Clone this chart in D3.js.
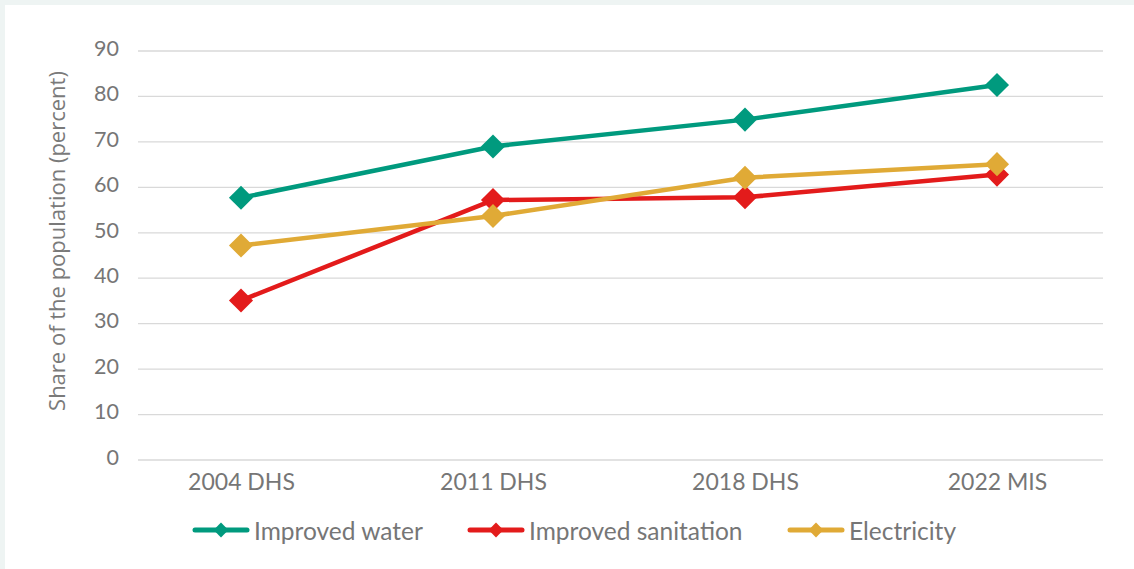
<!DOCTYPE html>
<html><head><meta charset="utf-8">
<script src="https://cdn.jsdelivr.net/npm/d3@7"></script>
<style>
html,body{margin:0;padding:0;background:#eef4f3;}
svg{display:block;}
</style></head>
<body>
<svg id="chart" width="1134" height="569"></svg>
<script>
const categories = ["2004 DHS", "2011 DHS", "2018 DHS", "2022 MIS"];
const improvedWater = [57.7, 69.0, 74.9, 82.5];
const improvedSanitation = [35.1, 57.2, 57.8, 62.8];
const electricity = [47.2, 53.7, 62.1, 65.1];
const yTicks = [0, 10, 20, 30, 40, 50, 60, 70, 80, 90];
const seriesNames = ["Improved water", "Improved sanitation", "Electricity"];
const seriesColors = ["#009a7e", "#e31b1b", "#e0aa36"];

const series = [
  {name: seriesNames[0], values: improvedWater, color: seriesColors[0]},
  {name: seriesNames[1], values: improvedSanitation, color: seriesColors[1]},
  {name: seriesNames[2], values: electricity, color: seriesColors[2]}
];

const svg = d3.select("#chart");
svg.append("rect").attr("x",5).attr("y",5).attr("width",1129).attr("height",564).attr("fill","#fff");

const gridX0 = 138, gridX1 = 1103;
const x = d3.scalePoint().domain(categories).range([241, 997]);
const y = d3.scaleLinear().domain([0, 90]).range([460, 51]);

const tickFont = "Lato, 'Open Sans', sans-serif";
const textColor = "#767676";

// gridlines
svg.append("g").selectAll("line").data(yTicks).join("line")
  .attr("x1", gridX0).attr("x2", gridX1)
  .attr("y1", d => y(d)).attr("y2", d => y(d))
  .attr("stroke", "#d9d9d9").attr("stroke-width", 1.3);

// y axis labels
const yAxis = d3.axisLeft(y).tickValues(yTicks).tickSize(0).tickPadding(0);
const gy = svg.append("g").attr("transform", "translate(119,0)").call(yAxis);
gy.select(".domain").remove();
gy.selectAll("text").attr("font-family", tickFont).attr("font-size", 21.5).attr("fill", textColor).attr("dy", "0.2em");

// x axis labels
const xAxis = d3.axisBottom(x).tickSize(0).tickPadding(0);
const gx = svg.append("g").attr("transform", "translate(0,474)").call(xAxis);
gx.select(".domain").remove();
gx.selectAll("text").attr("font-family", tickFont).attr("font-size", 23).attr("fill", textColor).attr("dy", "0.71em");

// y title
svg.append("text")
  .attr("transform", "translate(65,241) rotate(-90)")
  .attr("text-anchor", "middle")
  .attr("font-family", "'Open Sans', sans-serif")
  .attr("font-size", 22)
  .attr("fill", "#7a7a7a")
  .text("Share of the population (percent)");

const line = d3.line().x((d, i) => x(categories[i])).y(d => y(d));

series.forEach(s => {
  const g = svg.append("g");
  g.append("path").datum(s.values).attr("d", line)
    .attr("fill", "none").attr("stroke", s.color).attr("stroke-width", 4.5)
    .attr("stroke-linejoin", "round");
  g.selectAll("path.m").data(s.values).join("path").attr("class","m")
    .attr("transform", (d, i) => `translate(${x(categories[i])},${y(d)}) rotate(45)`)
    .attr("d", d3.symbol().type(d3.symbolSquare).size(290)())
    .attr("fill", s.color);
});

// legend
const legendX = [193, 468, 788];
const legendY = 530;
series.forEach((s, i) => {
  const g = svg.append("g").attr("transform", `translate(${legendX[i]},${legendY})`);
  g.append("line").attr("x1", 2).attr("x2", 54).attr("y1", 0).attr("y2", 0)
    .attr("stroke", s.color).attr("stroke-width", 5).attr("stroke-linecap", "round");
  g.append("path").attr("transform", "translate(28,0) rotate(45)")
    .attr("d", d3.symbol().type(d3.symbolSquare).size(110)()).attr("fill", s.color);
  g.append("text").attr("x", 61).attr("y", 1).attr("dy", "0.35em")
    .attr("font-family", tickFont).attr("font-size", 24.5).attr("fill", textColor)
    .text(s.name);
});
</script>
</body></html>
